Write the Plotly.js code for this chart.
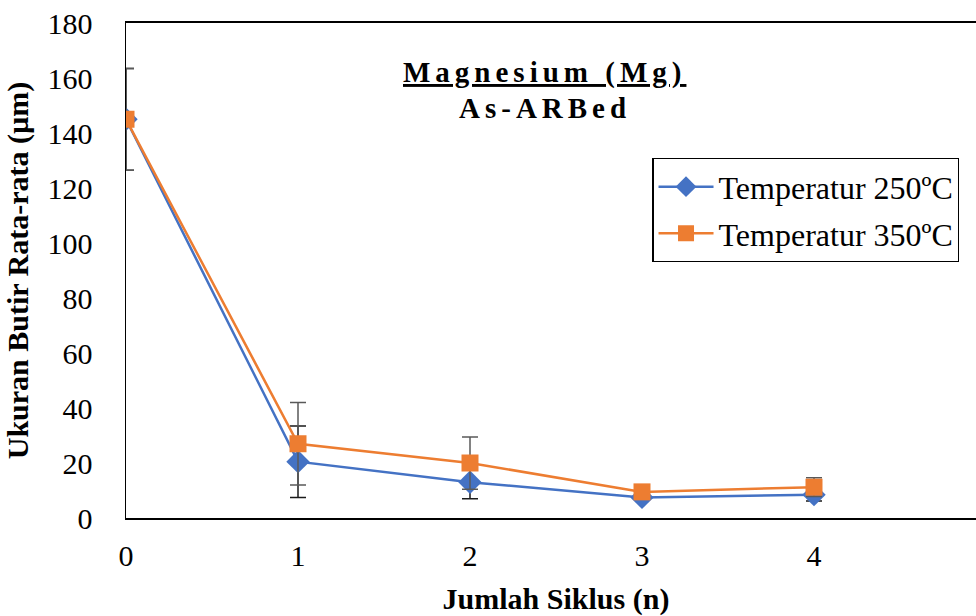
<!DOCTYPE html>
<html>
<head>
<meta charset="utf-8">
<script src="https://cdn.plot.ly/plotly-3.0.1.min.js"></script>
</head>
<body style="margin:0;overflow:hidden;background:#fff">
<div id="chart"></div>
<script>
const cycles = [0, 1, 2, 3, 4];
const size250 = [145, 20.5, 13, 7.5, 8.5];
const err250 = [18.5, 13, 6, 1, 2.3];
const size350 = [145, 27, 20, 9.5, 11.2];
const err350 = [18.5, 15, 9.5, 1, 3.4];
const seriesNames = ['Temperatur 250ºC', 'Temperatur 350ºC'];
const xTickVals = [0, 1, 2, 3, 4];
const yTickVals = [0, 20, 40, 60, 80, 100, 120, 140, 160, 180];

const fam = 'Liberation Serif';

const traces = [
  {
    x: cycles, y: size250, name: seriesNames[0], type: 'scatter', mode: 'lines+markers',
    line: { color: '#4472C4', width: 2.5 },
    marker: { symbol: 'diamond', size: 18, color: '#4472C4' },
    error_y: { type: 'data', array: err250, visible: true, color: '#1a1a1a', thickness: 1.5, width: 8 },
    legendgroup: 'a'
  },
  {
    x: cycles, y: size350, name: seriesNames[1], type: 'scatter', mode: 'lines+markers',
    line: { color: '#ED7D31', width: 2.5 },
    marker: { symbol: 'square', size: 17, color: '#ED7D31' },
    error_y: { type: 'data', array: err350, visible: true, color: '#595959', thickness: 1.5, width: 8 },
    legendgroup: 'b'
  }
];

const layout = {
  width: 1000, height: 616,
  margin: { l: 126, r: 14, t: 23, b: 98 },
  paper_bgcolor: '#ffffff', plot_bgcolor: '#ffffff',
  font: { family: fam, size: 30, color: '#000' },
  showlegend: true,
  legend: {
    x: 0.612, y: 0.727, xanchor: 'left', yanchor: 'top',
    bgcolor: '#fff', bordercolor: '#000', borderwidth: 1.2,
    font: { family: fam, size: 32, color: '#000' },
    tracegroupgap: 2, itemwidth: 55
  },
  xaxis: {
    range: [0, 5], tickvals: xTickVals, ticks: '', showgrid: false, zeroline: false,
    showline: true, linecolor: '#000', linewidth: 2, mirror: true,
    ticklabelstandoff: 10,
    tickfont: { family: fam, size: 30, color: '#000' },
    title: { text: 'Jumlah Siklus (n)', font: { family: fam, size: 30, weight: 'bold', color: '#000' }, standoff: 18 }
  },
  yaxis: {
    range: [0, 180], tickvals: yTickVals, ticks: '', showgrid: false, zeroline: false,
    showline: true, linecolor: '#000', linewidth: 1.5, mirror: true,
    ticklabelstandoff: 26,
    tickfont: { family: fam, size: 30, color: '#000' },
    title: { text: 'Ukuran Butir Rata-rata (µm)', font: { family: fam, size: 30, weight: 'bold', color: '#000' }, standoff: 10 }
  },
  annotations: [
    { xref: 'paper', yref: 'paper', x: 0.487, y: 0.899, xanchor: 'center', yanchor: 'middle',
      text: 'Magnesium (Mg)', showarrow: false,
      font: { family: fam, size: 29, weight: 'bold', color: '#000', lineposition: 'under' } },
    { xref: 'paper', yref: 'paper', x: 0.487, y: 0.828, xanchor: 'center', yanchor: 'middle',
      text: 'As-ARBed', showarrow: false,
      font: { family: fam, size: 29, weight: 'bold', color: '#000' } }
  ]
};

Plotly.newPlot('chart', traces, layout, { displayModeBar: false, staticPlot: true }).then(function (gd) {
  gd.querySelectorAll('.annotation-text').forEach(function (t) {
    t.style.letterSpacing = '5px';
  });
});
</script>
</body>
</html>
